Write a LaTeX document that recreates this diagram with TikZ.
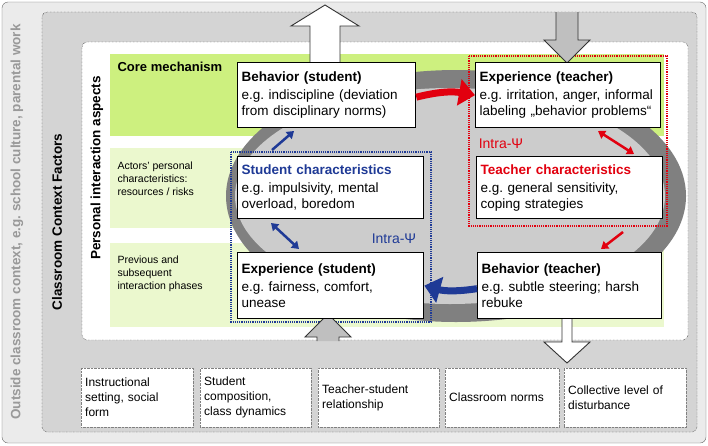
\documentclass[tikz,border=0pt]{standalone}
\usepackage{fontspec}
\setmainfont{Liberation Sans}
\usetikzlibrary{arrows.meta}
\frenchspacing
\definecolor{lime}{HTML}{CDF07F}
\definecolor{palelime}{HTML}{EBF8CE}
\definecolor{psiblue}{HTML}{1F3A96}
\definecolor{psired}{HTML}{E2000F}
\tikzset{
  box/.style={draw, line width=1.3pt, fill=white, anchor=north west, align=left,
    inner sep=4pt, font=\fontsize{13.5}{16}\selectfont},
  factor/.style={draw=gray, densely dotted, fill=white, anchor=north west, align=left,
    inner sep=4pt, minimum height=59pt, font=\fontsize{12}{15}\selectfont},
  band/.style={anchor=north west, align=left, font=\fontsize{10.5}{13}\selectfont},
  blockarrow/.style={draw=black!80, line width=0.9pt},
}
\begin{document}
\begin{tikzpicture}[x=1pt, y=-1pt]
	\useasboundingbox (0,0) rectangle (708,445);
	% frames
	\draw[rounded corners=6pt, fill=black!8, draw=black!60] (2,2) rectangle (706,443);
	\draw[rounded corners=5pt, fill=black!17, densely dotted] (42,12) rectangle (697,432);
	\draw[rounded corners=5pt, fill=white, densely dotted] (82,42) rectangle (688,340);
	% bands
	\fill[lime] (110,54) rectangle (664,136);
	\fill[palelime] (110,148) rectangle (664,228);
	\fill[palelime] (110,243) rectangle (664,327);
	% ring
	\fill[black!50] (456,196) ellipse [x radius=230, y radius=126];
	\fill[black!20] (450,196) ellipse [x radius=215, y radius=108];
	% frames of the two actors
	\draw[psiblue, densely dotted, line width=1.2pt] (231,152) rectangle (431,322);
	\draw[psired, densely dotted, line width=1.2pt] (469,56) rectangle (667,226);
	% labels
	\node[band, font=\fontsize{13}{15}\selectfont\bfseries] (core) at (114,59) {Core mechanism};
	\node[band] (actors) at (114,158) {Actors' personal\\characteristics:\\resources / risks};
	\node[band] (phases) at (114,252) {Previous and\\subsequent\\interaction phases};
	\node[rotate=90, text=black!40, font=\fontsize{13.5}{15}\selectfont\bfseries] (outside) at (17,222) {Outside classroom context, e.g. school culture, parental work};
	\node[rotate=90, font=\fontsize{13.5}{15}\selectfont\bfseries] (classroom) at (57,222) {Classroom Context Factors};
	\node[rotate=90, font=\fontsize{13.5}{15}\selectfont\bfseries] (personal) at (97,168) {Personal interaction aspects};
	\node[psired, font=\fontsize{14}{16}\selectfont] (psir) at (501,144) {Intra-Ψ};
	\node[psiblue, font=\fontsize{14}{16}\selectfont] (psib) at (394,239) {Intra-Ψ};
	% block arrows
	\draw[blockarrow, fill=white] (310,62) -- (310,26) -- (291,26) -- (325,5) -- (359,26) -- (340,26) -- (340,62);
	\draw[blockarrow, fill=black!25] (556,12) -- (556,40) -- (544,40) -- (567,63) -- (590,40) -- (578,40) -- (578,12);
	\draw[blockarrow, fill=black!25] (317,341) -- (317,337) -- (305,337) -- (328,314) -- (351,337) -- (339,337) -- (339,341);
	\draw[blockarrow, fill=white] (562,318) -- (562,342) -- (544,342) -- (567,363) -- (590,342) -- (572,342) -- (572,318);
	% boxes
	\node[box, text width=170pt, minimum height=65pt] (bs) at (237,62)
		{\textbf{Behavior (student)}\\[2pt]e.g. indiscipline (deviation\\from disciplinary norms)};
	\node[box, text width=177pt, minimum height=65pt] (et) at (475,62)
		{\textbf{Experience (teacher)}\\[2pt]e.g. irritation, anger, informal\\labeling „behavior problems“};
	\node[box, text width=178pt, minimum height=62pt] (sc) at (237,156)
		{\textcolor{psiblue}{\textbf{Student characteristics}}\\[2pt]e.g. impulsivity, mental\\overload, boredom};
	\node[box, text width=178pt, minimum height=62pt] (tc) at (476,156)
		{\textcolor{psired}{\textbf{Teacher characteristics}}\\[2pt]e.g. general sensitivity,\\coping strategies};
	\node[box, text width=178pt, minimum height=66pt] (es) at (237,252)
		{\textbf{Experience (student)}\\[2pt]e.g. fairness, comfort,\\unease};
	\node[box, text width=176pt, minimum height=66pt] (bt) at (477,252)
		{\textbf{Behavior (teacher)}\\[2pt]e.g. subtle steering; harsh\\rebuke};
	% factors
	\node[factor, text width=104pt] (f1) at (81,368) {Instructional\\setting, social\\form};
	\node[factor, text width=103pt] (f2) at (200,368) {Student\\composition,\\class dynamics};
	\node[factor, text width=113pt] (f3) at (318,368) {Teacher-student\\relationship};
	\node[factor, text width=106pt] (f4) at (445,368) {Classroom norms};
	\node[factor, text width=114pt] (f5) at (564,368) {Collective level of\\disturbance};
	% arrows
	\draw[psired, line width=7pt, -{Triangle[length=16pt, width=26pt]}] (bs.east) ++(0,2) coordinate (r0) to[bend left=12] (et.west);
	\draw[psired, line width=2.5pt, {Triangle[length=7pt, width=9pt]}-{Triangle[length=7pt, width=9pt]}] (598,131) -- (634,154);
	\draw[psired, line width=2.5pt, -{Triangle[length=7pt, width=9pt]}] (623,232) coordinate (r1) -- (601,249);
	\draw[psiblue, line width=7pt, -{Triangle[length=16pt, width=26pt]}] (bt.west) ++(0,3) coordinate (b0) to[bend left=12] (es.east);
	\draw[psiblue, line width=2.5pt, {Triangle[length=7pt, width=9pt]}-{Triangle[length=7pt, width=9pt]}] (271,223) -- (299,249);
	\draw[psiblue, line width=2.5pt, -{Triangle[length=7pt, width=9pt]}] (272,150) coordinate (b1) -- (294,131);
\end{tikzpicture}
\end{document}
